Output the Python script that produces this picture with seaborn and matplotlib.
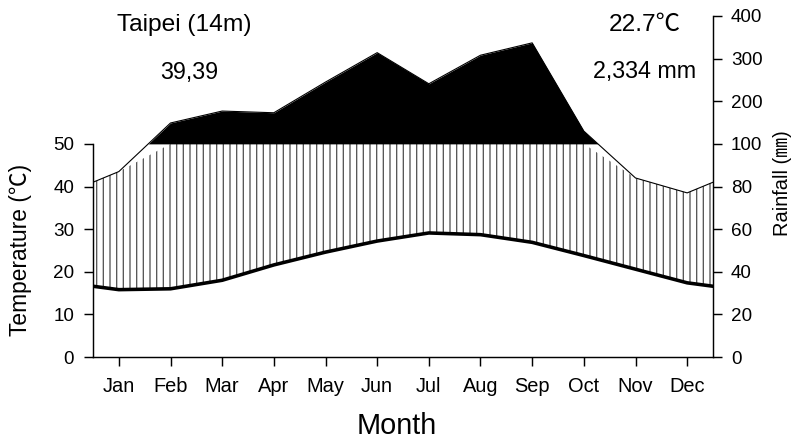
import numpy as np
import matplotlib
matplotlib.use("Agg")
import matplotlib.pyplot as plt
import seaborn as sns

# Walter-Lieth style climate diagram, Taipei
months = ["Jan", "Feb", "Mar", "Apr", "May", "Jun",
          "Jul", "Aug", "Sep", "Oct", "Nov", "Dec"]
temp = [15.8, 16.0, 18.0, 21.6, 24.6, 27.2, 29.1, 28.7, 26.9, 23.8, 20.6, 17.4]
rain = [87, 149, 177, 173, 245, 314, 241, 308, 337, 130, 84, 77]

station = "Taipei (14m)"
station_code = "39,39"
mean_temp = "22.7℃"
total_rain = "2,334 mm"

temp_ticks = [0, 10, 20, 30, 40, 50]
rain_ticks = [0, 20, 40, 60, 80, 100, 200, 300, 400]


def rain_scale(mm):
    # 1 degC = 2 mm up to 100 mm, above that 1 degC = 10 mm
    mm = np.asarray(mm, dtype=float)
    return np.where(mm <= 100, mm / 2, 50 + (mm - 100) / 10)


sns.set_theme(style="ticks")
plt.rcParams["font.family"] = ["Liberation Sans", "Noto Sans CJK JP", "DejaVu Sans"]
plt.rcParams["text.color"] = "black"
plt.rcParams["axes.labelcolor"] = "black"
plt.rcParams["hatch.color"] = "0.35"
plt.rcParams["hatch.linewidth"] = 1.2

# wrap the year around so the curves reach the plot edges
x = np.arange(len(months), dtype=float)
x_ext = np.concatenate([[-0.5], x, [len(months) - 0.5]])
t_edge = (temp[0] + temp[-1]) / 2
r_edge = (rain[0] + rain[-1]) / 2
temp_ext = np.array([t_edge] + temp + [t_edge])
rain_ext = rain_scale([r_edge] + rain + [r_edge])

fig = plt.figure(figsize=(10, 5.5625), dpi=80)
ax = fig.add_axes([93 / 800, 88 / 445, 620 / 800, 341 / 445])

# humid period (hatched) and very wet period (black)
ax.fill_between(x_ext, temp_ext, np.minimum(rain_ext, 50),
                where=rain_ext >= temp_ext, interpolate=True,
                facecolor="white", edgecolor="0.35", hatch="||", linewidth=0)
ax.fill_between(x_ext, 50, rain_ext, where=rain_ext >= 50, interpolate=True,
                color="black", linewidth=0)
ax.plot(x_ext, rain_ext, color="black", lw=1.0)
sns.lineplot(x=x_ext, y=temp_ext, color="black", lw=3.2, ax=ax)

ax.set_xlim(-0.5, len(months) - 0.5)
ax.set_ylim(0, 80)

ax.set_xticks(x)
ax.set_xticklabels(months)
ax.set_yticks(temp_ticks)
ax.spines["top"].set_visible(False)
ax.spines["right"].set_visible(False)
ax.spines["left"].set_bounds(0, 50)
for s in ["left", "bottom"]:
    ax.spines[s].set_linewidth(1.3)
    ax.spines[s].set_color("black")
ax.tick_params(axis="both", direction="out", length=8, width=1.3,
               labelsize=17, colors="black")
ax.tick_params(axis="x", pad=10, labelsize=18)
ax.tick_params(axis="y", pad=9)

ax.set_xlabel("Month", fontsize=26)
ax.xaxis.set_label_coords(0.49, -0.16)
ax.set_ylabel("Temperature (℃)", fontsize=20.5)
ax.yaxis.set_label_coords(-0.098, 0.314)

ax2 = ax.twinx()
ax2.set_ylim(ax.get_ylim())
ax2.set_yticks(rain_scale(rain_ticks))
ax2.set_yticklabels([str(v) for v in rain_ticks])
for s in ["top", "left", "bottom"]:
    ax2.spines[s].set_visible(False)
ax2.spines["right"].set_bounds(0, 80)
ax2.spines["right"].set_linewidth(1.3)
ax2.spines["right"].set_color("black")
ax2.tick_params(axis="y", direction="out", length=8, width=1.3,
                labelsize=17, colors="black", pad=8)
ax2.set_ylabel("Rainfall (㎜)", fontsize=18)
ax2.yaxis.set_label_coords(1.097, 0.51)

ax.text(0.147, 0.974, station, transform=ax.transAxes, fontsize=22,
        ha="center", va="center")
ax.text(0.156, 0.833, station_code, transform=ax.transAxes, fontsize=21,
        ha="center", va="center")
ax.text(0.89, 0.974, mean_temp, transform=ax.transAxes, fontsize=22,
        ha="center", va="center")
ax.text(0.89, 0.836, total_rain, transform=ax.transAxes, fontsize=21,
        ha="center", va="center")

fig.savefig("out.png", dpi=80, facecolor="white")
